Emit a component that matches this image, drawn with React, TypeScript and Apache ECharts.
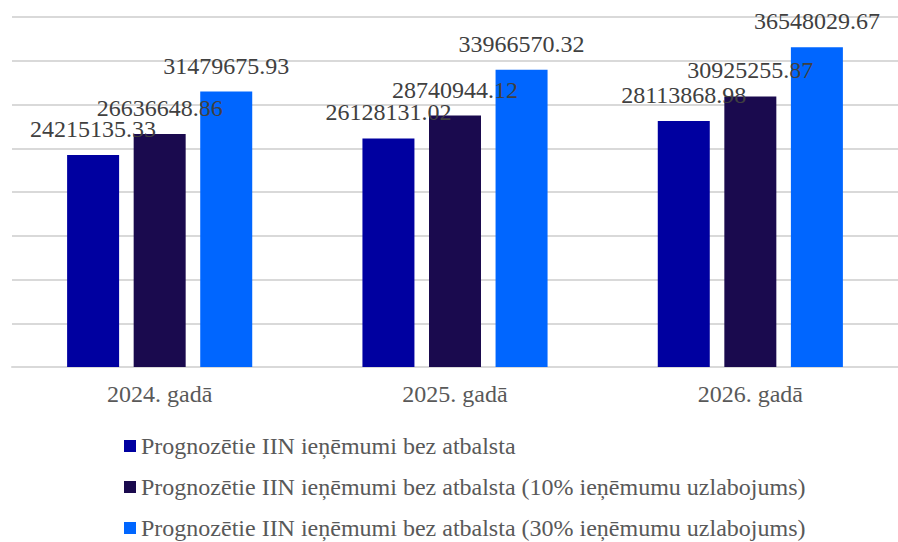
import React, { useEffect, useRef } from "react";
import * as echarts from "echarts";

const categories = ["2024. gadā", "2025. gadā", "2026. gadā"];
const seriesNames = [
  "Prognozētie IIN ieņēmumi bez atbalsta",
  "Prognozētie IIN ieņēmumi bez atbalsta (10% ieņēmumu uzlabojums)",
  "Prognozētie IIN ieņēmumi bez atbalsta (30% ieņēmumu uzlabojums)",
];
const baseValues = [24215135.33, 26128131.02, 28113868.98];
const plus10Values = [26636648.86, 28740944.12, 30925255.87];
const plus30Values = [31479675.93, 33966570.32, 36548029.67];
const colors = ["#0000A0", "#1A0A4E", "#0066FF"];

const FONT = "Liberation Serif";

export default function App() {
  const ref = useRef<HTMLDivElement>(null);
  useEffect(() => {
    if (!ref.current) return;
    const chart = echarts.init(ref.current, null, { renderer: "svg" });
    const mk = (name: string, data: number[], color: string) => ({
      name,
      type: "bar",
      data,
      barWidth: 52,
      barGap: "28%",
      itemStyle: { color },
      label: {
        show: true,
        position: "top",
        distance: 14,
        fontFamily: FONT,
        fontSize: 24,
        color: "#404040",
        formatter: (p: any) => p.value.toFixed(2),
      },
    });
    chart.setOption({
      animation: false,
      grid: { left: 12, width: 900, top: 17, bottom: 175 },
      legend: {
        orient: "vertical",
        left: 124,
        top: 434,
        height: 130,
        padding: 0,
        itemWidth: 12,
        itemHeight: 12,
        itemGap: 17,
        icon: "rect",
        textStyle: { fontFamily: FONT, fontSize: 24, lineHeight: 24, color: "#595959" },
        data: seriesNames,
      },
      xAxis: {
        type: "category",
        data: categories,
        axisLine: { lineStyle: { color: "#d9d9d9", width: 2 } },
        axisTick: { show: false },
        axisLabel: { fontFamily: FONT, fontSize: 24, color: "#595959", margin: 15 },
      },
      yAxis: {
        type: "value",
        min: 0,
        max: 40000000,
        interval: 5000000,
        axisLabel: { show: false },
        axisLine: { show: false },
        axisTick: { show: false },
        splitLine: { lineStyle: { color: "#d9d9d9", width: 2 } },
      },
      series: [
        mk(seriesNames[0], baseValues, colors[0]),
        mk(seriesNames[1], plus10Values, colors[1]),
        mk(seriesNames[2], plus30Values, colors[2]),
      ],
    });
    return () => chart.dispose();
  }, []);
  return <div ref={ref} style={{ width: 898, height: 542, position: "absolute", left: 0, top: 0 }} />;
}
